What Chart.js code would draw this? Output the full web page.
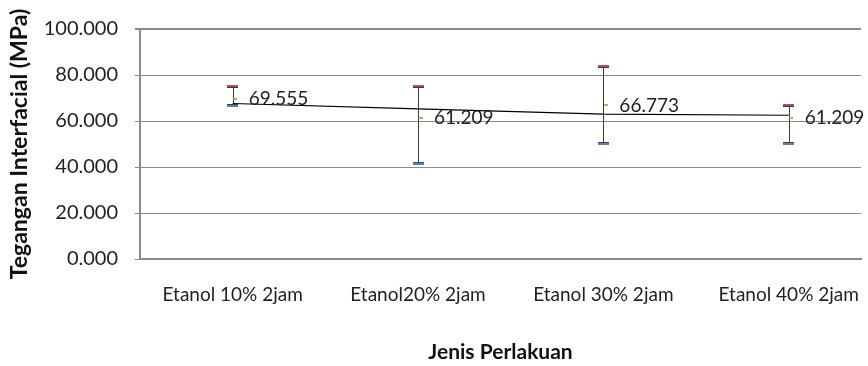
<!DOCTYPE html>
<html>
<head>
<meta charset="utf-8">
<script src="https://cdn.jsdelivr.net/npm/chart.js@4.4.1/dist/chart.umd.min.js"></script>
<style>
  html, body { margin: 0; padding: 0; background: #ffffff; }
  #wrap { width: 868px; height: 366px; }
</style>
</head>
<body>
<div id="wrap"><canvas id="stockChart" width="868" height="366"></canvas></div>
<script>
// data
const categories = ['Etanol 10% 2jam', 'Etanol20% 2jam', 'Etanol 30% 2jam', 'Etanol 40% 2jam'];
const highVals = [75.1, 75.1, 83.7, 66.8];
const lowVals = [66.8, 41.7, 50.3, 50.3];
const closeVals = [69.555, 61.209, 66.773, 61.209];
const trendVals = [67.6, 65.3, 63.0, 62.5];
const yTicks = [0, 20, 40, 60, 80, 100];

const FONT = 'Lato, "Open Sans", sans-serif';

// little images for the caps and the close tick
function makeMark(w, rows) {
    const c = document.createElement('canvas');
    c.width = w;
    c.height = rows.length;
    const g = c.getContext('2d');
    rows.forEach((row, r) => {
        row.forEach(([x0, x1, col]) => {
            g.fillStyle = col;
            g.fillRect(x0, r, x1 - x0, 1);
        });
    });
    return c;
}
const highCap = makeMark(11, [[[0, 11, '#c0504d']], [[0, 11, '#c0504d']], [[0, 11, '#3a3a3a']]]);
const lowCap = makeMark(11, [[[0, 11, '#3a3a3a']], [[0, 11, '#4f81bd']], [[0, 11, '#4f81bd']]]);
const closeMark = makeMark(9, [[[5, 9, '#9bbb59']], [[5, 9, '#9bbb59']]]);

const asPoints = arr => arr.map((v, i) => ({ x: i + 1, y: v }));

// vertical high-low lines
const hiLoPlugin = {
    id: 'hiLoLines',
    beforeDatasetsDraw(chart) {
        const { ctx, scales: { x, y } } = chart;
        ctx.save();
        ctx.strokeStyle = '#3a3a3a';
        ctx.lineWidth = 1;
        categories.forEach((c, i) => {
            const px = Math.round(x.getPixelForValue(i + 1)) + 0.5;
            ctx.beginPath();
            ctx.moveTo(px, y.getPixelForValue(highVals[i]));
            ctx.lineTo(px, y.getPixelForValue(lowVals[i]));
            ctx.stroke();
        });
        ctx.restore();
    }
};

// value labels next to the close mark
const labelPlugin = {
    id: 'closeLabels',
    afterDatasetsDraw(chart) {
        const { ctx, scales: { x, y } } = chart;
        ctx.save();
        ctx.font = '19px ' + FONT;
        ctx.fillStyle = '#222';
        ctx.textAlign = 'left';
        ctx.textBaseline = 'middle';
        closeVals.forEach((v, i) => {
            ctx.fillText(v.toFixed(3), x.getPixelForValue(i + 1) + 16, y.getPixelForValue(v));
        });
        ctx.restore();
    }
};

const ctx = document.getElementById('stockChart').getContext('2d');

const stockChart = new Chart(ctx, {
    type: 'line',
    data: {
        datasets: [
            {
                label: 'Trend',
                data: asPoints(trendVals),
                borderColor: '#000000',
                borderWidth: 1.2,
                pointRadius: 0,
                fill: false,
                tension: 0
            },
            {
                label: 'High',
                data: asPoints(highVals),
                showLine: false,
                pointStyle: highCap,
                pointRadius: 6
            },
            {
                label: 'Low',
                data: asPoints(lowVals),
                showLine: false,
                pointStyle: lowCap,
                pointRadius: 6
            },
            {
                label: 'Close',
                data: asPoints(closeVals),
                showLine: false,
                pointStyle: closeMark,
                pointRadius: 5
            }
        ]
    },
    options: {
        responsive: false,
        animation: false,
        layout: { padding: { top: 19, left: 0, right: 0, bottom: 0 } },
        plugins: {
            legend: { display: false },
            tooltip: { enabled: false }
        },
        scales: {
            x: {
                type: 'linear',
                min: 0.5,
                max: 4.39,
                afterBuildTicks: scale => {
                    scale.ticks = categories.map((c, i) => ({ value: i + 1 }));
                },
                afterFit: scale => {
                    scale.height = 107;
                    scale.paddingLeft = 0;
                    scale.paddingRight = 0;
                },
                ticks: {
                    callback: v => categories[v - 1] || '',
                    font: { family: FONT, size: 19 },
                    color: '#222',
                    padding: 24,
                    maxRotation: 0,
                    autoSkip: false
                },
                grid: { drawOnChartArea: false, drawTicks: false },
                border: { display: true, color: '#8a8a8a', width: 2 },
                title: {
                    display: true,
                    text: 'Jenis Perlakuan',
                    font: { family: FONT, size: 21, weight: 'bold' },
                    color: '#111',
                    padding: { top: 0, bottom: 1 }
                }
            },
            y: {
                min: 0,
                max: 100,
                afterBuildTicks: scale => {
                    scale.ticks = yTicks.map(v => ({ value: v }));
                },
                afterFit: scale => { scale.width = 140; },
                ticks: {
                    callback: v => v.toFixed(3),
                    font: { family: FONT, size: 20 },
                    color: '#222',
                    padding: 17
                },
                grid: {
                    color: '#8a8a8a',
                    lineWidth: c => (c.tick && c.tick.value === 100 ? 2 : 1),
                    tickLength: 5
                },
                border: { display: true, color: '#8a8a8a', width: 2 },
                title: {
                    display: true,
                    text: 'Tegangan Interfacial (MPa)',
                    font: { family: FONT, size: 23, weight: 'bold' },
                    color: '#111',
                    padding: { top: 6, bottom: 0 }
                }
            }
        }
    },
    plugins: [hiLoPlugin, labelPlugin]
});
</script>
</body>
</html>
